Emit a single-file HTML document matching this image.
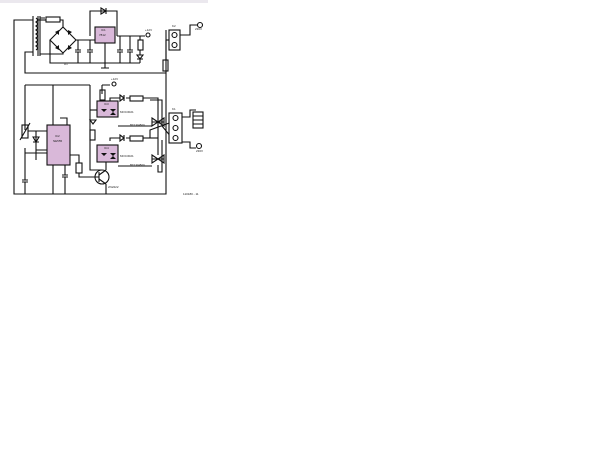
<!DOCTYPE html>
<html><head><meta charset="utf-8"><style>
html,body{margin:0;padding:0;background:#fff;width:600px;height:450px;overflow:hidden}
svg{position:absolute;left:0;top:0}
text{font-family:"Liberation Sans",sans-serif;font-size:3px;fill:#222}
</style></head><body>
<svg width="600" height="450" viewBox="0 0 600 450">
<rect x="0" y="0" width="208" height="3" fill="#ebe8ee"/>
<g stroke="#111" stroke-width="1.1" fill="none">
<path d="M33 20 H14 V194 H166 V40"/>
<path d="M33 52 H25 V73 H166"/>
<path d="M33 16 V56 M38 16 V56 M40 16 V56"/>
<path d="M36 18 q3 2 0 4 q3 2 0 4 q3 2 0 4 q3 2 0 4 q3 2 0 4 q3 2 0 4 q3 2 0 4 q3 2 0 4"/>
<path d="M40 18 H45 M40 54 H45"/>
<path d="M38 20 H46"/><rect x="46" y="17" width="14" height="5"/><path d="M60 20 H63 V27"/>
<path d="M63 27 L76 40 L63 53 L50 40 Z"/>
<path d="M50 40 V63 H140"/><path d="M40 54 H63 V53"/>
<path d="M76 40 H95"/>
<path d="M90 36 V11 H117 V36"/>
<path d="M101 8 L106 11 L101 14 Z M106 8 V14"/>
<path d="M78 40 V50 M75 50 H81 M75 52 H81 M78 52 V63"/>
<path d="M90 40 V50 M87 50 H93 M87 52 H93 M90 52 V63"/>
<path d="M117 36 H145"/>
<path d="M120 36 V50 M117 50 H123 M117 52 H123 M120 52 V63"/>
<path d="M130 36 V50 M127 50 H133 M127 52 H133 M130 52 V63"/>
<path d="M105 43 V68 M101 68 H109"/>
<path d="M140 36 V40"/><rect x="138" y="40" width="5" height="10"/><path d="M140 50 V55 M137 55 L140 59 L143 55 Z M137 59 H143 M140 59 V63"/>
<circle cx="148" cy="35" r="2"/>
<path d="M166 40 H172"/>
<rect x="163" y="60" width="5" height="11"/>
<path d="M166 30 V60"/>
<path d="M180 35 H190 V25 H197"/><circle cx="200" cy="25" r="2.5"/>
<path d="M25 85 H90 M53 85 V125 M90 85 V170 H102"/>
<path d="M25 85 V130 M25 148 V170"/>
<rect x="22" y="125" width="6" height="13"/>
<path d="M20 140 L30 123"/>
<path d="M28 131 H47 M36 131 V160 M33 137 L36 142 L39 137 Z M33 142 H39"/>
<path d="M36 150 H47 M25 153 H47"/>
<path d="M25 170 V180 M22 180 H28 M22 182 H28 M25 182 V194"/>
<path d="M53 165 V194 M65 165 V175 M62 175 H68 M62 177 H68 M65 177 V194"/>
<path d="M60 118 H67 V125"/>
<path d="M70 155 H79 V163"/><rect x="76" y="163" width="6" height="10"/><path d="M79 173 V177 H95"/>
<path d="M102 94 V85 M102 85 H110"/><rect x="100" y="90" width="5" height="10"/><path d="M102 100 V101"/>
<circle cx="114" cy="84" r="2"/>
<circle cx="102" cy="177" r="7"/>
<path d="M99 172 V182 M99 177 H94 M99 175 L106 170 M99 179 L106 184 M106 170 V162 M106 184 V194 M101 194 H111"/>
<path d="M97 110 H90"/>
<path d="M110 101 V98 H120 M126 98 H130"/><path d="M120 95 L124 98 L120 101 Z M124 95 V101"/><rect x="130" y="96" width="13" height="5"/>
<path d="M143 98 H158 V118 V155"/>
<path d="M110 141 V138 H120 M126 138 H130"/><path d="M120 135 L124 138 L120 141 Z M124 135 V141"/><rect x="130" y="136" width="13" height="5"/>
<path d="M143 138 H158"/>
<path d="M152 118 L158 122 L152 126 Z M164 118 L158 122 L164 126 Z M152 122 H164"/>
<path d="M152 155 L158 159 L152 163 Z M164 155 L158 159 L164 163 Z M152 159 H164"/>
<path d="M118 126 H152 M118 166 H152"/>
<path d="M150 100 H162 V126 L172 138 M150 138 V130 L172 122 M158 165 V172 H162 V140"/>
<path d="M172 122 H169 M172 138 H169"/>
<path d="M182 117 H190 V110 H196 M182 142 H190 V148 H196"/>
<rect x="193" y="112" width="10" height="16"/><path d="M193 116 H203 M193 120 H203 M193 124 H203"/>
<circle cx="199" cy="146" r="2.5"/>
<path d="M90 120 L93 124 L96 120 Z"/>
<rect x="90" y="130" width="5" height="10"/>
</g>
<g fill="#111">
<path d="M55 32 L59 30 L59 35 Z M68 30 L72 32 L68 35 Z M55 48 L59 45 L59 50 Z M68 45 L72 48 L68 50 Z"/>
</g>
<g stroke="#111" stroke-width="1.1" fill="#d9b8d9">
<rect x="95" y="27" width="20" height="16"/>
<rect x="47" y="125" width="23" height="40"/>
<rect x="97" y="101" width="21" height="16"/>
<rect x="97" y="145" width="21" height="17"/>
</g>
<g stroke="#111" stroke-width="1.1" fill="#fff">
<rect x="169" y="30" width="11" height="20"/>
<circle cx="174.5" cy="35" r="2.5"/><circle cx="174.5" cy="45" r="2.5"/>
<rect x="169" y="113" width="13" height="30"/>
<circle cx="175.5" cy="118" r="2.5"/><circle cx="175.5" cy="128" r="2.5"/><circle cx="175.5" cy="138" r="2.5"/>
</g>
<g fill="#111">
<path d="M101 109 L104 112 L107 109 Z M110 109 L113 112 L116 109 Z M110 115 L113 112 L116 115 Z"/>
<path d="M101 153 L104 156 L107 153 Z M110 153 L113 156 L116 153 Z M110 159 L113 156 L116 159 Z"/>
</g>
<text x="101" y="31">IC1</text><text x="99" y="36">7812</text>
<text x="55" y="137">IC2</text><text x="53" y="142">NE555</text>
<text x="104" y="105">IC3</text><text x="104" y="149">IC4</text>
<text x="120" y="113">MOC3021</text><text x="120" y="157">MOC3021</text>
<text x="130" y="126">BT139/800</text><text x="130" y="166">BT139/800</text>
<text x="108" y="188">2N2222</text><text x="64" y="65">D1</text>
<text x="172" y="27">K2</text><text x="172" y="110">K1</text>
<text x="145" y="31">+12V</text><text x="111" y="80">+12V</text>
<text x="195" y="30">230V</text><text x="196" y="152">230V</text>
<text x="183" y="195">110180 - 11</text>
</svg>
</body></html>
